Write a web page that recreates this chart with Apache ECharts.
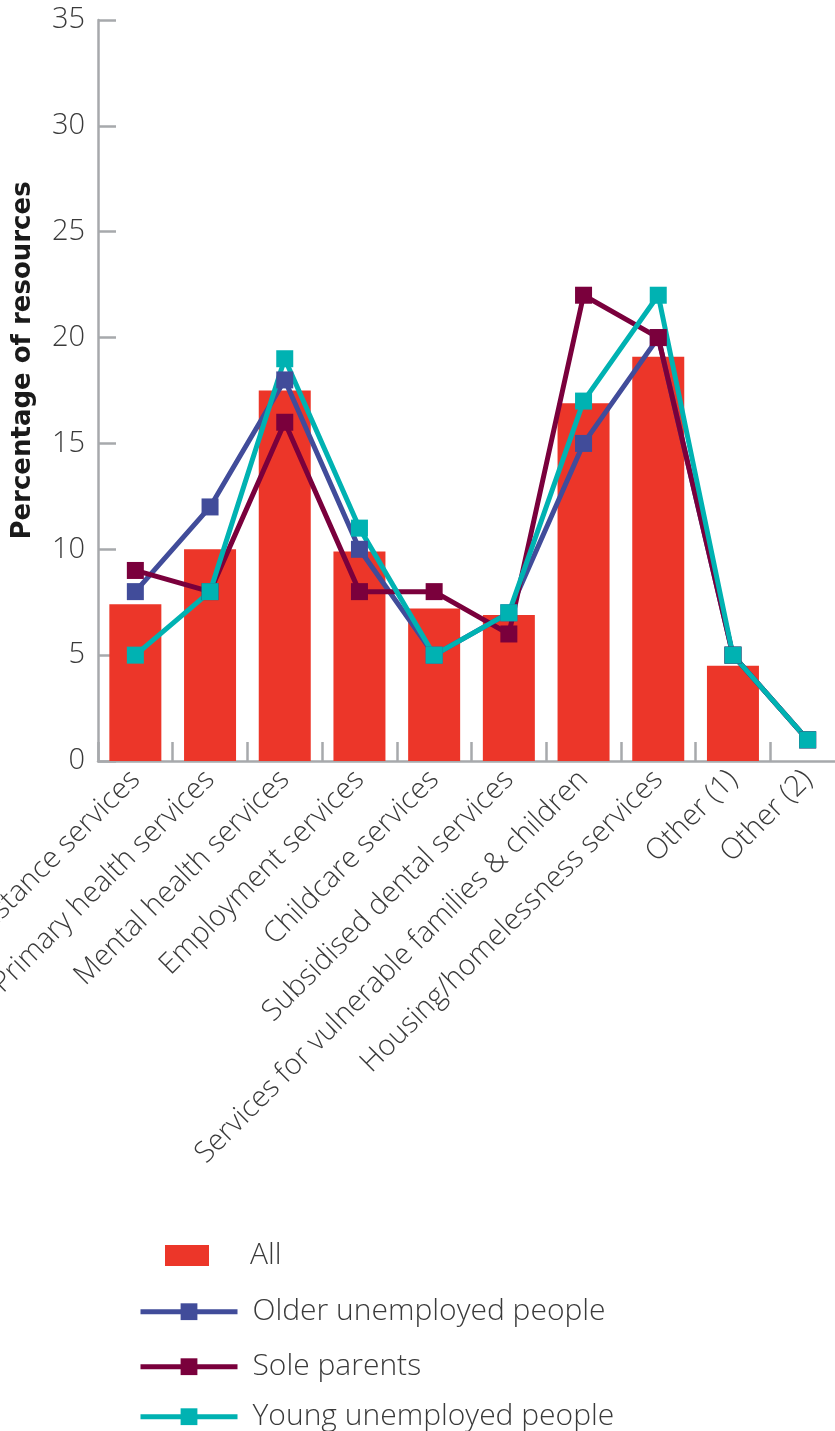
<!DOCTYPE html>
<html>
<head>
<meta charset="utf-8">
<script src="https://cdn.jsdelivr.net/npm/echarts@6/dist/echarts.min.js"></script>
<style>
html,body{margin:0;padding:0;background:#fff;}
#chart{width:835px;height:1431px;}
</style>
</head>
<body>
<div id="chart"></div>
<script>
const categories = [
  "Financial assistance services",
  "Primary health services",
  "Mental health services",
  "Employment services",
  "Childcare services",
  "Subsidised dental services",
  "Services for vulnerable families & children",
  "Housing/homelessness services",
  "Other (1)",
  "Other (2)"
];
const allValues = [7.4, 10, 17.5, 9.9, 7.2, 6.9, 16.9, 19.1, 4.5, null];
const olderUnemployed = [8, 12, 18, 10, 5, 7, 15, 20, 5, 1];
const soleParents = [9, 8, 16, 8, 8, 6, 22, 20, 5, 1];
const youngUnemployed = [5, 8, 19, 11, 5, 7, 17, 22, 5, 1];
const legendNames = ['All', 'Older unemployed people', 'Sole parents', 'Young unemployed people'];

const FONT = "Open Sans";
const axisGray = "#a7a9ac";
const textColor = "#3a3a3a";

const chart = echarts.init(document.getElementById('chart'), null, {renderer: 'canvas'});

function lineSeries(name, data, color) {
  return {
    name: name,
    type: 'line',
    data: data,
    symbol: 'rect',
    symbolSize: 17,
    lineStyle: {color: color, width: 5},
    itemStyle: {color: color},
    emphasis: {disabled: true},
    animation: false
  };
}

const legendText = {fontFamily: FONT, fontWeight: 300, fontSize: 30, color: textColor, lineHeight: 30};
const legends = [
  {
    data: [legendNames[0]], left: 165, top: 1240.5, padding: 0,
    itemWidth: 44, itemHeight: 21, icon: 'rect', selectedMode: false,
    textStyle: Object.assign({padding: [0, 0, 0, 36]}, legendText)
  }
];
const lineLegendTops = [1296.7, 1351.7, 1401.7];
for (let i = 1; i < 4; i++) {
  legends.push({
    data: [legendNames[i]], left: 138, top: lineLegendTops[i - 1], padding: 0,
    itemWidth: 97, itemHeight: 21, selectedMode: false,
    lineStyle: {width: 5},
    textStyle: Object.assign({padding: [0, 0, 0, 10]}, legendText)
  });
}

chart.setOption({
  animation: false,
  backgroundColor: '#fff',
  grid: {left: 98, top: 20, bottom: 670, right: -10, containLabel: false, outerBoundsMode: 'none'},
  legend: legends,
  xAxis: {
    type: 'category',
    data: categories,
    boundaryGap: true,
    axisLine: {show: true, lineStyle: {color: axisGray, width: 2.5}},
    axisTick: {show: true, inside: true, length: 19, alignWithLabel: false, lineStyle: {color: axisGray, width: 2.5}},
    axisLabel: {
      show: true,
      rotate: 45,
      interval: 0,
      margin: 14,
      fontFamily: FONT,
      fontWeight: 300,
      fontSize: 29,
      color: textColor,
      hideOverlap: false
    },
    splitLine: {show: false}
  },
  yAxis: {
    type: 'value',
    min: 0,
    max: 35,
    interval: 5,
    name: 'Percentage of resources',
    nameLocation: 'middle',
    nameRotate: 90,
    nameGap: 62,
    nameTextStyle: {fontFamily: 'DejaVu Sans', fontWeight: 'bold', fontSize: 26, color: '#1a1a1a', padding: [0, 0, 0, 60]},
    axisLine: {show: true, lineStyle: {color: axisGray, width: 2.5}},
    axisTick: {show: true, inside: true, length: 18, lineStyle: {color: axisGray, width: 2.5}},
    axisLabel: {
      margin: 13,
      fontFamily: FONT,
      fontWeight: 300,
      fontSize: 29,
      color: textColor
    },
    splitLine: {show: false}
  },
  series: [
    {
      name: 'All',
      type: 'bar',
      data: allValues,
      barWidth: 52,
      itemStyle: {color: '#ec3629'},
      emphasis: {disabled: true},
      animation: false
    },
    lineSeries('Older unemployed people', olderUnemployed, '#414c9a'),
    lineSeries('Sole parents', soleParents, '#7a003c'),
    lineSeries('Young unemployed people', youngUnemployed, '#00b2b2')
  ]
});
</script>
</body>
</html>
